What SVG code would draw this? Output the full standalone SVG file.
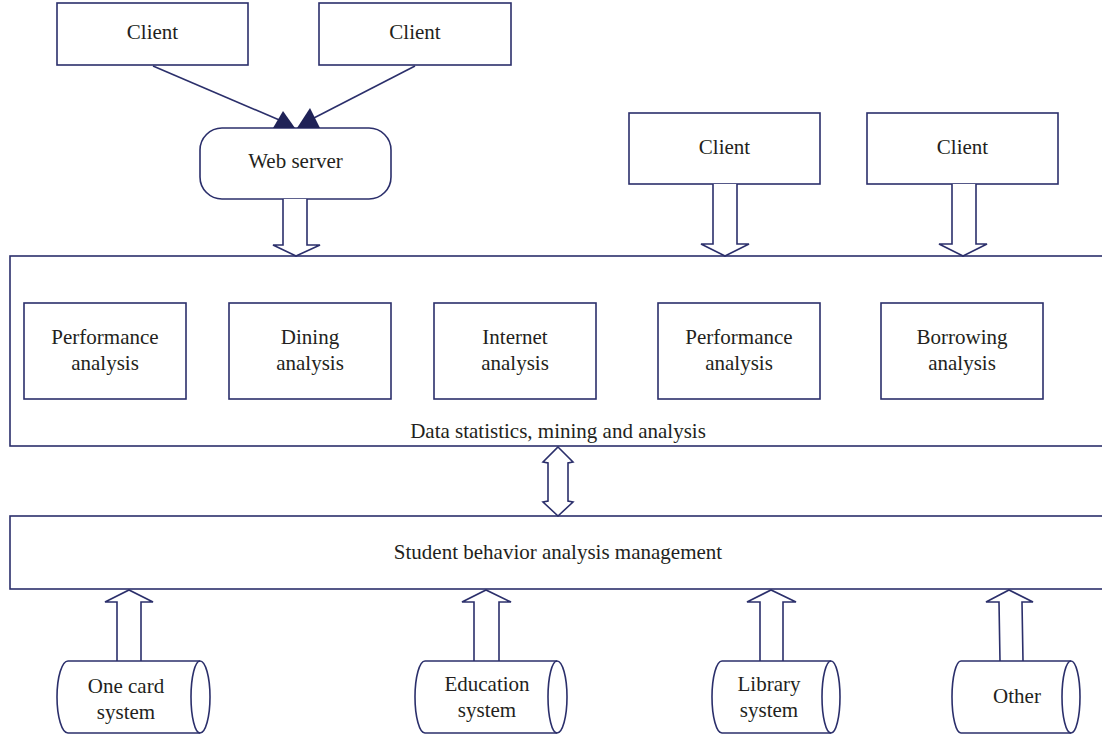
<svg xmlns="http://www.w3.org/2000/svg" width="1102" height="737" viewBox="0 0 1102 737">
<style>
.box{fill:#fff;stroke:#2b2f6b;stroke-width:1.6}
.ln{fill:none;stroke:#2b2f6b;stroke-width:1.6}
.blk{fill:#fff;stroke:#2b2f6b;stroke-width:1.6;stroke-linejoin:miter}
.ah{fill:#1f2257;stroke:none}
text{font-family:"Liberation Serif","Times New Roman",serif;font-size:21px;fill:#231f20;text-anchor:middle}
</style>
<rect width="1102" height="737" fill="#fff"/>
<g id="connectors">
  <line class="ln" x1="153" y1="66" x2="284" y2="122"/>
  <line class="ln" x1="415" y1="66" x2="310" y2="120"/>
</g>
<g id="client1"><rect class="box" x="57" y="3" width="191" height="62"/><text x="152.5" y="39">Client</text></g>
<g id="client2"><rect class="box" x="319" y="3" width="192" height="62"/><text x="415" y="39">Client</text></g>
<g id="webserver"><rect class="box" x="200" y="128" width="191" height="71" rx="22" ry="22"/><text x="295.5" y="168">Web server</text></g>
<g id="arrowheads">
  <polygon class="ah" points="273,128 283,111 295,128"/>
  <polygon class="ah" points="297,128 310,108 320,128"/>
</g>
<g id="client3"><rect class="box" x="629" y="113" width="191" height="71"/><text x="724.5" y="154">Client</text></g>
<g id="client4"><rect class="box" x="867" y="113" width="191" height="71"/><text x="962.5" y="154">Client</text></g>
<g id="data-analysis">
  <rect class="box" x="10" y="256" width="1110" height="190"/>
  <text x="558" y="438">Data statistics, mining and analysis</text>
</g>
<g id="perf1"><rect class="box" x="24" y="303" width="162" height="96"/><text x="105" y="344">Performance</text><text x="105" y="370">analysis</text></g>
<g id="dining"><rect class="box" x="229" y="303" width="162" height="96"/><text x="310" y="344">Dining</text><text x="310" y="370">analysis</text></g>
<g id="internet"><rect class="box" x="434" y="303" width="162" height="96"/><text x="515" y="344">Internet</text><text x="515" y="370">analysis</text></g>
<g id="perf2"><rect class="box" x="658" y="303" width="162" height="96"/><text x="739" y="344">Performance</text><text x="739" y="370">analysis</text></g>
<g id="borrowing"><rect class="box" x="881" y="303" width="162" height="96"/><text x="962" y="344">Borrowing</text><text x="962" y="370">analysis</text></g>
<g id="management">
  <rect class="box" x="10" y="516" width="1110" height="73"/>
  <text x="558" y="559">Student behavior analysis management</text>
</g>
<g id="block-arrows">
  <path class="blk" d="M283,199 L283,245 L273,245 L296,256 L320,245 L307,245 L307,199"/>
  <path class="blk" d="M713,184 L713,244 L701,244 L725,256 L749,244 L737,244 L737,184"/>
  <path class="blk" d="M952,184 L952,244 L939,244 L963,256 L987,244 L976,244 L976,184"/>
  <path class="blk" d="M558,447 L573,462 L568,463 L568,501 L573,502 L558,516 L543,502 L548,501 L548,463 L543,462 Z"/>
  <path class="blk" d="M117,661 L117,602 L105,602 L129,590 L153,602 L141,602 L141,661"/>
  <path class="blk" d="M474,661 L474,602 L462,602 L486,590 L511,602 L499,602 L499,661"/>
  <path class="blk" d="M760,661 L760,602 L747,602 L771,590 L796,602 L783,602 L783,661"/>
  <path class="blk" d="M1000,661 L999,602 L986,602 L1009,590 L1033,602 L1022,602 L1023,661"/>
</g>
<g id="onecard">
  <path class="box" d="M68,661 L200,661 A10,36 0 0 1 200,733 L68,733 A11,36 0 0 1 68,661 Z"/>
  <path class="ln" d="M200,661 A9,36 0 0 0 200,733"/>
  <text x="126" y="693">One card</text><text x="126" y="719">system</text>
</g>
<g id="education">
  <path class="box" d="M425,661 L557,661 A10,36 0 0 1 557,733 L425,733 A10,36 0 0 1 425,661 Z"/>
  <path class="ln" d="M557,661 A9,36 0 0 0 557,733"/>
  <text x="487" y="691">Education</text><text x="487" y="717">system</text>
</g>
<g id="library">
  <path class="box" d="M722,661 L831,661 A9,36 0 0 1 831,733 L722,733 A10,36 0 0 1 722,661 Z"/>
  <path class="ln" d="M831,661 A9,36 0 0 0 831,733"/>
  <text x="769" y="691">Library</text><text x="769" y="717">system</text>
</g>
<g id="other">
  <path class="box" d="M961,661 L1071,661 A9,36 0 0 1 1071,733 L961,733 A9,36 0 0 1 961,661 Z"/>
  <path class="ln" d="M1071,661 A9,36 0 0 0 1071,733"/>
  <text x="1017" y="703">Other</text>
</g>
</svg>
